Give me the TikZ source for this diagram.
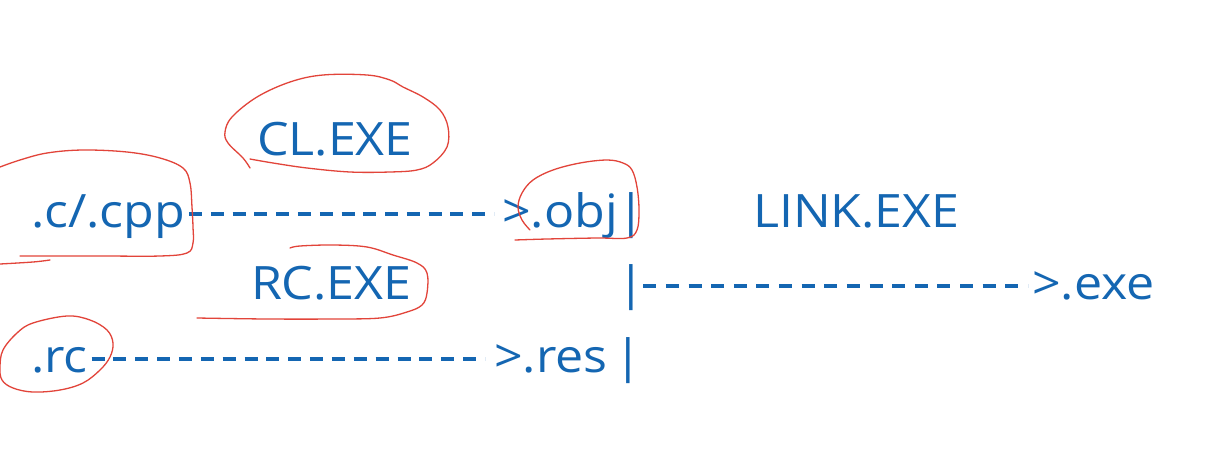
\documentclass[tikz,border=0pt]{standalone}
\usepackage{fontspec}
\usetikzlibrary{decorations}
\setmainfont{Open Sans}[FakeStretch=1.09]
\definecolor{inkblue}{RGB}{20,102,178}
\definecolor{penred}{RGB}{226,68,58}
\begin{document}
\begin{tikzpicture}[x=1pt,y=-1pt,
  lbl/.style={anchor=base west, inner sep=0pt, outer sep=0pt, text=inkblue, font=\fontsize{46}{55}\selectfont},
  dashlink/.style={draw=inkblue, line width=4.2pt, dash pattern=on 13pt off 8.5pt, dash expand off},
  penloop/.style={draw=penred, line width=1.3pt, line cap=round, line join=round}]
\useasboundingbox[fill=white] (0,0) rectangle (1207,469);

\node[lbl] (cl) at (257,155) {CL.EXE};
\node[lbl] (src) at (31,227) {.c/.cpp};
\node[lbl] (obj) at (502,227) {>.obj|};
\node[lbl] (link) at (753,227) {LINK.EXE};
\node[lbl] (rc) at (251,299) {RC.EXE};
\node[lbl] (bar) at (617,299) {|};
\node[lbl] (exe) at (1032,299) {>.exe};
\node[lbl] (rcsrc) at (31,372) {.rc};
\node[lbl] (res) at (494,372) {>.res \kern-6pt|};

\draw[dashlink] ([xshift=-5pt,yshift=13pt]src.base east) -- ([xshift=-8pt,yshift=13pt]obj.base west);
\draw[dashlink] ([xshift=-11pt,yshift=13pt]bar.base east) -- ([xshift=-4pt,yshift=13pt]exe.base west);
\draw[dashlink] ([xshift=-5pt,yshift=13pt]rcsrc.base east) -- ([xshift=-9pt,yshift=13pt]res.base west);

% CL.EXE loop
\draw[penloop] plot[smooth, tension=0.6] coordinates {(250,168) (243,158) (228,143) (225,132) (232,117) (257,97) (290,82) (323,75) (367,75) (390,80) (403,87) (423,97) (440,110) (448,127) (447,147) (433,163) (417,170) (390,172) (350,172) (307,168) (273,163) (250,159)};
% .c/.cpp loop
\draw[penloop] plot[smooth, tension=0.6] coordinates {(0,167) (20,160) (47,153) (83,150) (127,152) (160,158) (183,168) (190,183) (192,207) (193,227) (193,243) (187,253) (160,256) (100,256) (20,256)};
\draw[penloop] plot[smooth, tension=0.6] coordinates {(0,264) (33,262) (50,260)};
% .obj loop
\draw[penloop] plot[smooth, tension=0.6] coordinates {(515,240) (547,239) (597,238) (627,238) (637,230) (639,210) (637,187) (632,170) (623,163) (607,160) (580,163) (553,170) (533,180) (522,193) (518,207) (522,220) (530,230)};
% RC.EXE loop
\draw[penloop] plot[smooth, tension=0.6] coordinates {(290,248) (300,246) (333,245) (367,247) (393,255) (417,263) (427,273) (427,293) (422,305) (407,312) (380,318) (333,319) (267,319) (197,318)};
% .rc loop
\draw[penloop] plot[smooth cycle, tension=0.6] coordinates {(33,323) (67,316) (90,320) (107,330) (113,343) (110,357) (100,370) (83,383) (60,390) (33,392) (13,388) (2,380) (0,367) (3,350) (17,333)};
\end{tikzpicture}
\end{document}
